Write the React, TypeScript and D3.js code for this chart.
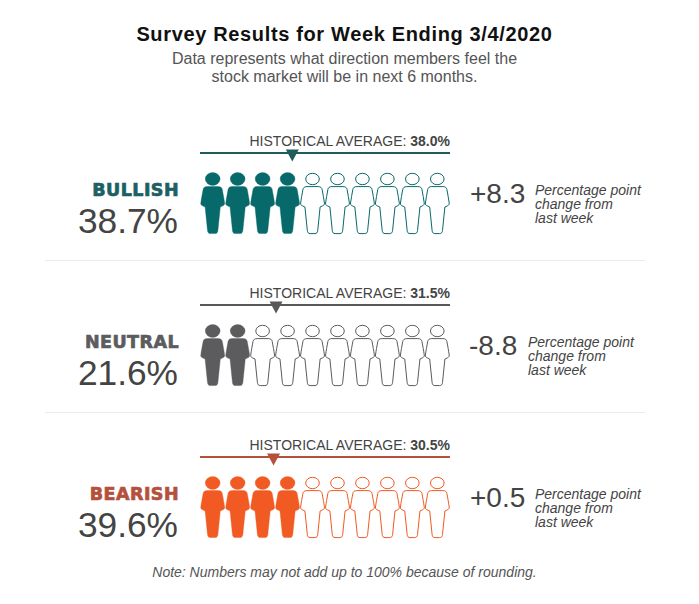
import React, { useEffect, useRef } from 'react';
import * as d3 from 'd3';

const sentiments = ['BULLISH', 'NEUTRAL', 'BEARISH'];
const percents = [38.7, 21.6, 39.6];
const averages = [38.0, 31.5, 30.5];
const changes = ['+8.3', '-8.8', '+0.5'];
const fillColors = ['#08696a', '#5c5c5f', '#f15a22'];
const labelColors = ['#1d6064', '#5c5c5f', '#b5503c'];
const lineColors = ['#1f5c5e', '#58585a', '#b5503c'];
const changeNoteLines = ['Percentage point', 'change from', 'last week'];
const iconSlots = d3.range(10);

const WIDTH = 699;
const HEIGHT = 604;
const FONT = '"Liberation Sans", Arial, sans-serif';

// one person, origin at the centre of the head
const BODY =
  'M-5.5,7.6 C-8,7.6 -9.2,8.6 -9.6,10.5 C-10.4,15 -11.4,20 -11.9,24 C-12.1,25.6 -11.4,26.2 -10.2,26.8 L-7.6,28 L-5.2,51.5 C-5,53.6 -4,54.6 -2.4,54.6 L2.4,54.6 C4,54.6 5,53.6 5.2,51.5 L7.6,28 L10.2,26.8 C11.4,26.2 12.1,25.6 11.9,24 C11.4,20 10.4,15 9.6,10.5 C9.2,8.6 8,7.6 5.5,7.6 Z';

const App: React.FC = () => {
  const svgRef = useRef<SVGSVGElement>(null);

  useEffect(() => {
    if (!svgRef.current) return;
    const svg = d3.select(svgRef.current);
    svg.selectAll('*').remove();

    const rowY = d3.scaleBand<string>().domain(sentiments).range([0, 456]);
    const iconX = d3.scaleLinear().domain([0, 9]).range([212.7, 437.3]);
    const avgX = d3.scaleLinear().domain([0, 100]).range([197.3, 447.3]);

    svg.append('text')
      .attr('x', 344.5).attr('y', 41)
      .attr('text-anchor', 'middle')
      .style('font-size', '20px').style('font-weight', '700').style('letter-spacing', '0.65px')
      .style('fill', '#111')
      .text('Survey Results for Week Ending 3/4/2020');

    svg.append('text')
      .attr('x', 344.5).attr('y', 64)
      .attr('text-anchor', 'middle')
      .style('font-size', '16px').style('fill', '#555')
      .text('Data represents what direction members feel the');
    svg.append('text')
      .attr('x', 344.5).attr('y', 82)
      .attr('text-anchor', 'middle')
      .style('font-size', '16px').style('fill', '#555')
      .text('stock market will be in next 6 months.');

    sentiments.forEach((name, i) => {
      const g = svg.append('g').attr('transform', `translate(0,${rowY(name)})`);
      const filled = Math.round(percents[i] / 10);

      const avgLabel = g.append('text')
        .attr('x', 450).attr('y', 146)
        .attr('text-anchor', 'end')
        .style('font-size', '14px').style('fill', '#444');
      avgLabel.append('tspan').text('HISTORICAL AVERAGE: ');
      avgLabel.append('tspan').style('font-weight', '700').text(`${averages[i].toFixed(1)}%`);

      g.append('rect')
        .attr('x', 200).attr('y', 152)
        .attr('width', 250).attr('height', 2)
        .attr('fill', lineColors[i]);

      const tx = avgX(averages[i]);
      g.append('path')
        .attr('d', `M${tx - 6.5},149.5 L${tx + 6.5},149.5 L${tx},161.5 Z`)
        .attr('fill', lineColors[i]);

      g.append('text')
        .attr('x', 179).attr('y', 195.5)
        .attr('text-anchor', 'end')
        .style('font-family', '"DejaVu Sans", sans-serif')
        .style('font-size', '17.5px').style('font-weight', '700').style('letter-spacing', '0.45px')
        .style('fill', labelColors[i]).style('stroke', labelColors[i]).style('stroke-width', '0.7px')
        .text(name);

      g.append('text')
        .attr('x', 178).attr('y', 233)
        .attr('text-anchor', 'end')
        .style('font-size', '35.3px').style('fill', '#444')
        .text(`${percents[i].toFixed(1)}%`);

      const people = g.selectAll('.person')
        .data(iconSlots)
        .enter()
        .append('g')
        .attr('class', 'person')
        .attr('transform', d => `translate(${iconX(d)},179)`)
        .attr('fill', d => (d < filled ? fillColors[i] : '#fff'))
        .attr('stroke', fillColors[i])
        .attr('stroke-width', d => (d < filled ? 0.4 : 1));

      people.append('ellipse')
        .attr('rx', d => (d < filled ? 7.4 : 6.8))
        .attr('ry', d => (d < filled ? 6.4 : 5.7));
      people.append('path').attr('d', BODY);

      // +8.3 / -8.8 block is offset by the width of its sign
      const changeX = changes[i].startsWith('-') ? 469 : 470;
      const noteX = changes[i].startsWith('-') ? 528 : 535;
      g.append('text')
        .attr('x', changeX).attr('y', 203)
        .style('font-size', '28px').style('fill', '#444')
        .text(changes[i]);

      changeNoteLines.forEach((line, j) => {
        g.append('text')
          .attr('x', noteX).attr('y', 195 + j * 14)
          .style('font-size', '14px').style('font-style', 'italic').style('fill', '#444')
          .text(line);
      });

      if (i < sentiments.length - 1) {
        g.append('line')
          .attr('x1', 45).attr('x2', 645)
          .attr('y1', 260.5).attr('y2', 260.5)
          .attr('stroke', '#ececec');
      }
    });

    svg.append('text')
      .attr('x', 344.5).attr('y', 577)
      .attr('text-anchor', 'middle')
      .style('font-size', '14px').style('font-style', 'italic').style('fill', '#555')
      .text('Note: Numbers may not add up to 100% because of rounding.');
  }, []);

  return (
    <svg
      ref={svgRef}
      width={WIDTH}
      height={HEIGHT}
      viewBox={`0 0 ${WIDTH} ${HEIGHT}`}
      style={{ position: 'absolute', left: 0, top: 0, background: '#fff', fontFamily: FONT }}
    />
  );
};

export default App;
